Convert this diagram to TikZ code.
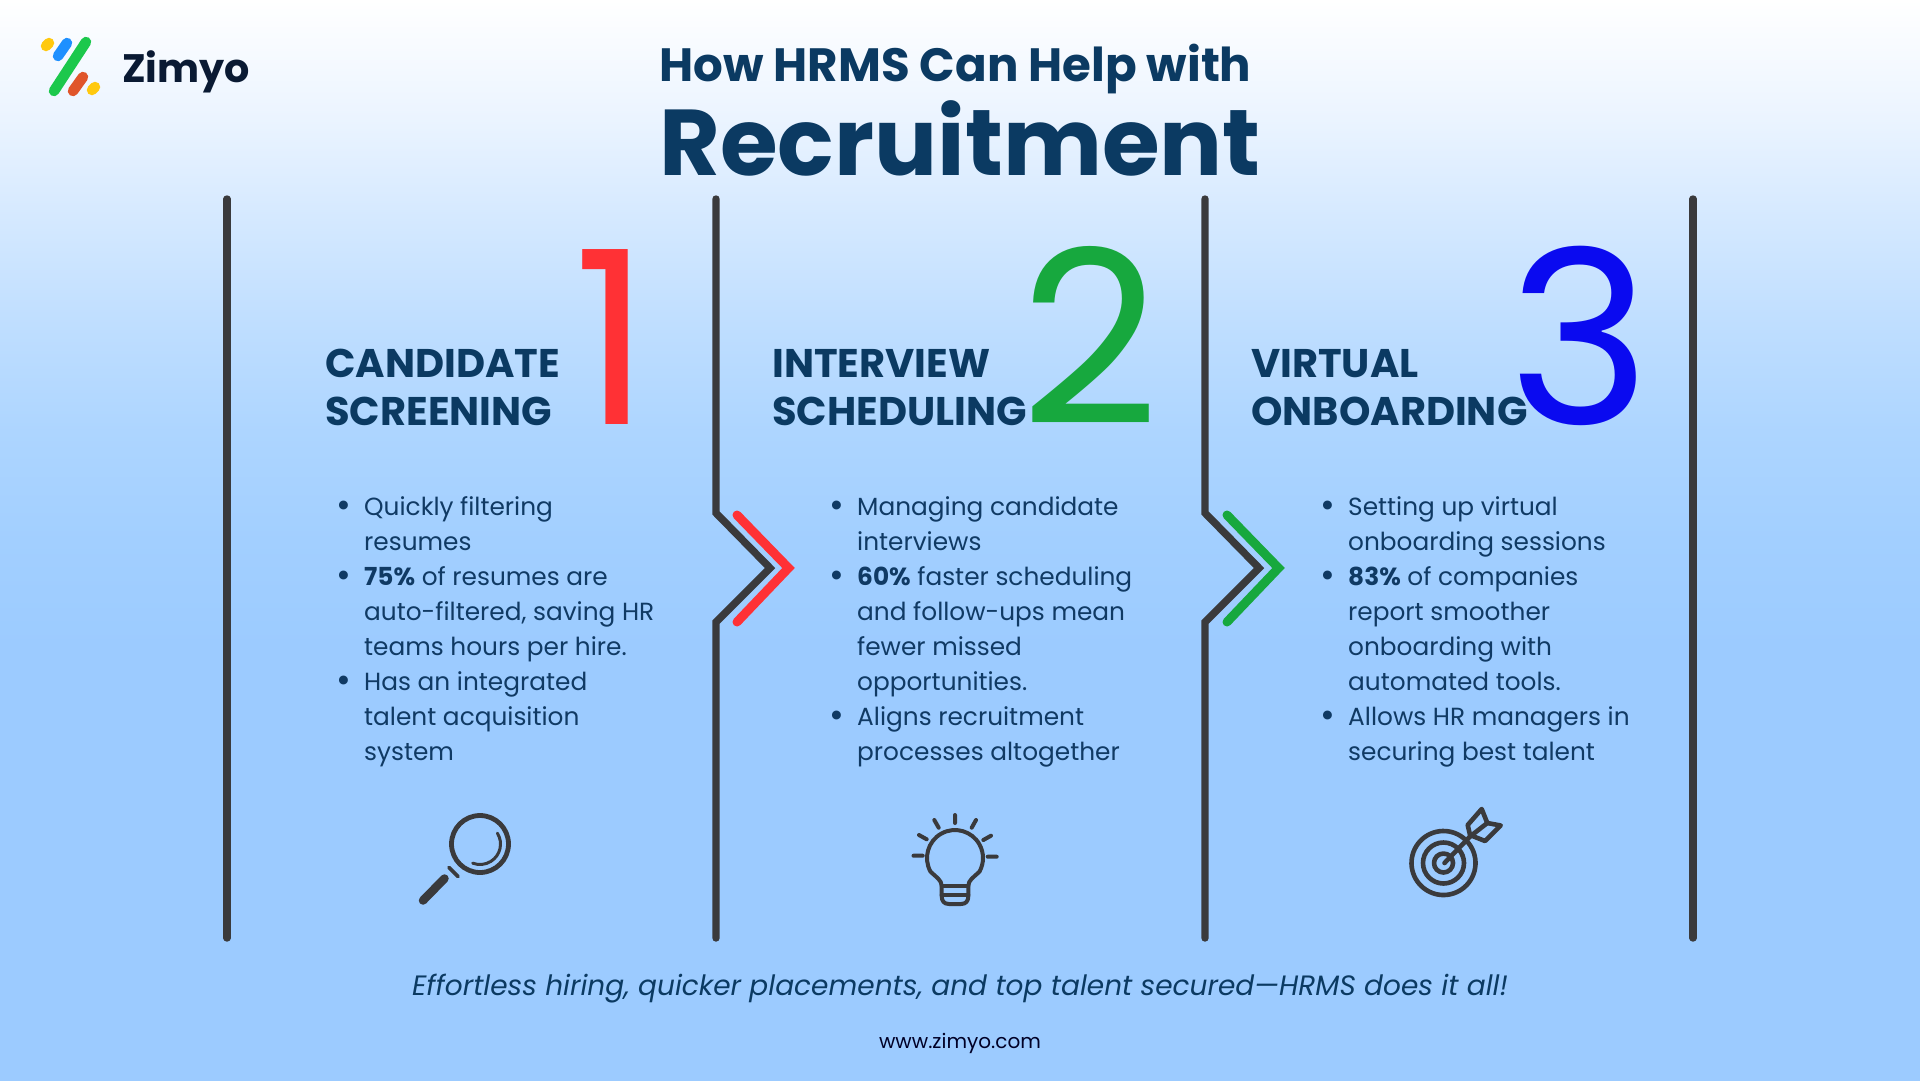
\documentclass[tikz,border=0pt]{standalone}
\usepackage{fontspec}
\setmainfont{Poppins}
\definecolor{navy}{HTML}{0B3A62}
\definecolor{bodytxt}{HTML}{103A64}
\definecolor{ink}{HTML}{3A3A3C}
\definecolor{cred}{HTML}{FF3135}
\definecolor{cgreen}{HTML}{17A83E}
\definecolor{cblue}{HTML}{0A0AF0}
\definecolor{bgA}{HTML}{FFFFFF}
\definecolor{bgB}{HTML}{EDF5FF}
\definecolor{bgC}{HTML}{D5E9FF}
\definecolor{bgD}{HTML}{BFDEFF}
\definecolor{bgE}{HTML}{ADD5FF}
\definecolor{bgF}{HTML}{A2CFFF}
\definecolor{bgG}{HTML}{9CCBFF}
\definecolor{lgreen}{HTML}{1CC84C}
\definecolor{lblue}{HTML}{1E90FF}
\definecolor{lorange}{HTML}{E0552B}
\definecolor{lyellow}{HTML}{FFC90F}
\definecolor{brandink}{HTML}{0A1A33}
\pgfdeclareverticalshading{pagebg}{100bp}{
  color(0bp)=(bgG);
  color(45bp)=(bgG);
  color(50bp)=(bgF);
  color(55bp)=(bgE);
  color(60bp)=(bgD);
  color(65bp)=(bgC);
  color(70bp)=(bgB);
  color(75bp)=(bgA);
  color(100bp)=(bgA)}
\newcommand{\bul}{\llap{\raisebox{-2pt}{\fontsize{36}{26}\selectfont •}\hspace{13pt}}}
\tikzset{
  x=1pt,y=1pt,
  rail/.style={draw=ink,line width=7.4pt,line cap=round,line join=miter},
  chev/.style={line width=9pt,line cap=round,line join=miter},
  head/.style={font=\fontsize{40}{48}\selectfont\bfseries,text=navy,align=left,anchor=north west,inner sep=0pt},
  bignum/.style={font=\fontsize{242}{242}\selectfont,anchor=base west,inner sep=0pt},
  body/.style={font=\fontsize{24.8}{35}\selectfont,text=bodytxt,align=left,anchor=north west,inner sep=0pt},
  ico/.style={draw=ink,line width=4.6pt,line cap=round,line join=round},
  logobar/.style={line width=10.5pt,line cap=round}
}
\begin{document}
\begin{tikzpicture}
\useasboundingbox (0,0) rectangle (1920,-1080);
\shade[shading=pagebg] (0,0) rectangle (1920,-1080);

% logo
\draw[logobar,draw=lgreen] (86,-42) -- (54,-91);
\draw[logobar,draw=lblue] (67,-43) -- (58,-56);
\draw[logobar,draw=lorange] (83,-77) -- (73,-91);
\draw[logobar,draw=lyellow] (49,-43) -- (46,-46);
\draw[logobar,draw=lyellow] (95,-87) -- (92,-90);
\node[anchor=base west,inner sep=0pt,font=\fontsize{39.7}{40}\selectfont\bfseries,text=brandink] (brand) at (122,-82) {Zimyo};

% title
\node[anchor=base,inner sep=0pt,font=\fontsize{46.7}{47}\selectfont\bfseries,text=navy] (t1) at (955.5,-81) {How HRMS Can Help with};
\node[anchor=base,inner sep=0pt,font=\fontsize{93.5}{94}\selectfont\bfseries,text=navy] (t2) at (960,-175) {Recruitment};

% rails
\draw[rail] (227,-199) -- (227,-938);
\draw[rail] (716,-199) -- (716,-513) -- (770,-568) -- (716,-622) -- (716,-938);
\draw[rail] (1205,-199) -- (1205,-513) -- (1259,-568) -- (1205,-622) -- (1205,-938);
\draw[rail] (1693,-199) -- (1693,-938);
\draw[chev,draw=cred] (737,-515) -- (788.5,-568) -- (737,-622);
\draw[chev,draw=cgreen] (1227,-515) -- (1278.5,-568) -- (1227,-622);

% numbers
\node[bignum,text=cred] (n1) at (573.5,-424) {1};
\node[bignum,text=cgreen] (n2) at (1020,-424) {2};
\node[bignum,text=cblue] (n3) at (1508.5,-424) {3};

% headings
\node[head] (h1) at (325,-349) {CANDIDATE\\SCREENING};
\node[head] (h2) at (772,-349) {INTERVIEW\\SCHEDULING};
\node[head] (h3) at (1251,-349) {VIRTUAL\\ONBOARDING};

% bullet text
\node[body] (b1) at (364,-496.5) {\bul Quickly filtering\\resumes\\\bul\textbf{75\%} of resumes are\\auto-filtered, saving HR\\teams hours per hire.\\\bul Has an integrated\\talent acquisition\\system};
\node[body] (b2) at (857,-496.5) {\bul Managing candidate\\interviews\\\bul\textbf{60\%} faster scheduling\\and follow-ups mean\\fewer missed\\opportunities.\\\bul Aligns recruitment\\processes altogether};
\node[body] (b3) at (1348,-496.5) {\bul Setting up virtual\\onboarding sessions\\\bul\textbf{83\%} of companies\\report smoother\\onboarding with\\automated tools.\\\bul Allows HR managers in\\securing best talent};

% magnifier
\draw[ico,line width=4.8pt] (480,-844) circle (28.5);
\draw[ico,line width=3pt] (480,-844) ++(32:20.5) arc (32:-111:20.5);
\draw[ico,line width=3.8pt] (449,-867.5) -- (458,-876.5);
\draw[ico,line width=8.5pt] (444.5,-878.5) -- (423,-900.5);

% bulb
\draw[ico,line width=4pt] (941.7,-886) .. controls (941.7,-880) and (936,-877) .. (930.5,-871.6) arc (209:-29:28) .. controls (974,-877) and (968.3,-880) .. (968.3,-886) -- (968.3,-896) .. controls (968.3,-901) and (966,-904) .. (961,-904) -- (949,-904) .. controls (944,-904) and (941.7,-901) .. (941.7,-896) -- cycle;
\draw[ico,line width=4pt] (941.7,-886) -- (968.3,-886) (941.7,-895) -- (968.3,-895);
\draw[ico,line width=4pt] (955,-815) -- (955,-823) (934.3,-820) -- (938.7,-827.7) (919,-835) -- (926.7,-839.3) (913.5,-855.7) -- (922.7,-855.7) (976,-820) -- (971.7,-827.7) (991,-835.7) -- (983.3,-840) (987.7,-856.7) -- (996.7,-856.7);

% target
\draw[ico] (1443.5,-863) ++(58:32) arc (58:-335:32);
\draw[ico] (1443.5,-863) ++(45:20.5) arc (45:-345:20.5);
\draw[ico] (1443.5,-863) ++(45:9.5) arc (45:-345:9.5);
\draw[ico] (1444.5,-863) -- (1470,-836.5);
\draw[ico] (1470,-835) -- (1467.7,-825) -- (1481.7,-809) -- (1487.3,-823) -- (1500.7,-825.5) -- (1485,-841) -- cycle;
\draw[ico] (1470,-836.5) -- (1487.3,-823);

% footer
\node[anchor=base,inner sep=0pt,font=\fontsize{28}{28}\selectfont\itshape,text=navy] (tag) at (960,-995) {Effortless hiring, quicker placements, and top talent secured—HRMS does it all!};
\node[anchor=base,inner sep=0pt,font=\fontsize{20}{20}\selectfont,text=black!85!blue] (web) at (960,-1048) {www.zimyo.com};
\end{tikzpicture}
\end{document}
